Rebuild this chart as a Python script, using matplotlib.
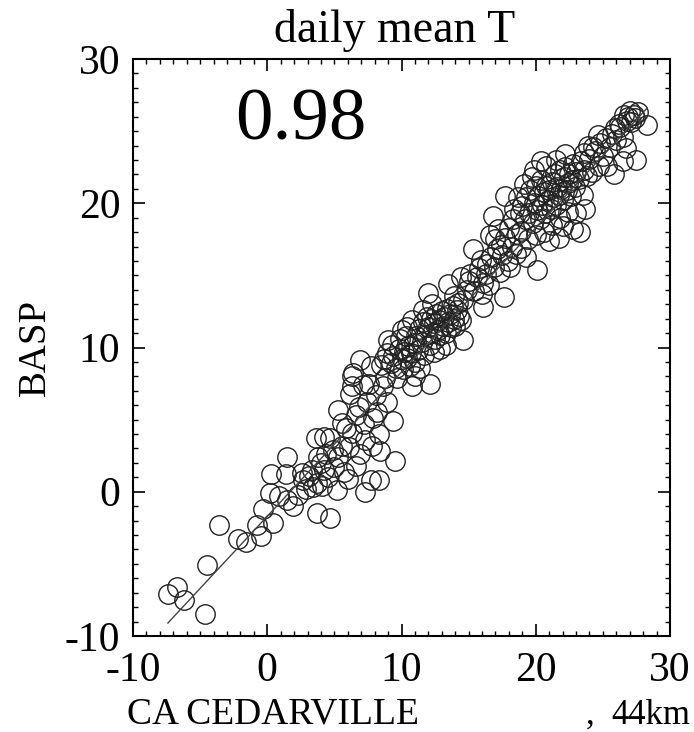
import numpy as np
import matplotlib
matplotlib.use('Agg')
import matplotlib.pyplot as plt
from matplotlib.ticker import MultipleLocator

# daily mean temperature, CA CEDARVILLE (x) vs BASP (y)
x_cedarville = [
    -7.4, -6.7, -6.2, -4.6, -4.5, -3.6, -2.2, -1.6, -0.8, -0.5, 0.4, -0.3, 0.2, 0.3, 0.9,
    1.5, 1.4, 1.5, 1.9, 2.3, 2.7, 2.9, 3.3, 3.1,
    3.6, 4.2, 4.7, 3.8, 4.2, 3.7, 3.7, 4.7, 5.2, 5.3, 5.3, 6.0, 6.2, 6.3, 7.1, 7.2,
    7.3, 6.9, 7.3, 7.7, 8.3, 8.4, 8.3, 8.2, 9.4, 9.5, 8.9, 7.7, 6.4, 6.9, 6.3, 7.6,
    4.0, 4.4, 4.9, 4.5, 5.0, 5.6, 5.9, 6.3, 6.6, 6.8, 7.4, 7.9, 8.1, 8.6, 8.8, 5.6,
    6.1, 2.6, 4.1, 3.4, 6.6, 7.8, 5.7,
    9.0, 8.9, 10.3, 10.8, 12.1, 10.6, 11.9, 12.0, 13.5, 14.4, 14.6,
    8.5, 8.7, 9.2, 9.4, 9.6, 9.8, 10.0, 10.1, 10.2, 10.4, 10.5, 10.7, 10.9, 11.0,
    11.1, 11.2, 11.3, 11.5, 11.6, 11.7, 11.8, 12.0, 12.1, 12.2, 12.3, 12.4, 12.5,
    12.6, 12.7, 12.8, 12.9, 13.0, 13.1, 13.2, 13.3, 13.4, 13.5, 13.6, 13.7, 13.8,
    13.9, 14.0, 14.1, 14.2, 14.3, 9.3, 9.9, 10.4, 10.8, 11.4, 12.4, 12.9, 13.3,
    11.0, 9.7, 11.6, 12.3, 13.9, 10.0,
    15.1, 16.1, 16.4, 17.6, 16.1, 14.9, 15.9, 16.8, 17.0, 17.7, 14.6, 15.0, 15.4,
    15.6, 15.8, 16.0, 16.3, 16.5, 16.7, 16.9, 17.1, 17.3, 17.5, 17.7, 17.9, 18.0,
    18.2, 18.3, 18.5, 18.6, 18.8, 18.9, 17.2, 16.6, 18.1, 15.3, 14.4,
    19.9, 22.8, 21.7, 23.5, 19.3, 20.1,
    19.0, 19.2, 19.3, 19.5, 19.6, 19.8, 19.9, 20.0, 20.1, 20.2, 20.3, 20.4, 20.5,
    20.6, 20.7, 20.8, 20.9, 21.0, 21.1, 21.2, 21.3, 21.4, 21.5, 21.6, 21.7, 21.8,
    21.9, 22.0, 22.1, 22.2, 22.3, 22.4, 22.5, 22.6, 22.7, 22.8, 22.9, 23.0, 23.2,
    23.4, 23.6, 23.8, 24.0, 20.0, 20.6, 21.2, 21.8, 22.4, 19.4, 18.7, 20.8, 21.5,
    22.2, 23.0, 23.7, 22.0, 19.7, 18.4, 19.1, 20.4, 21.0, 23.3, 24.3, 17.4, 18.9,
    26.8, 28.3, 27.3, 25.8, 26.5, 26.7, 26.0, 24.8, 24.4, 24.7, 25.0, 25.2, 25.5,
    25.7, 25.9, 26.2, 26.5, 26.6, 27.0, 27.1, 27.4, 27.6, 26.9, 24.2, 25.3, 23.9,
    24.6, 23.6, 27.5, 26.3,
]
y_basp = [
    -7.1, -6.6, -7.5, -8.5, -5.1, -2.3, -3.3, -3.5, -2.3, -3.1, -2.2, -1.2, -0.1, 1.2, -0.3,
    2.4, 1.2, -0.6, -1.0, -0.2, 0.8, 0.2, 1.5, 1.1,
    3.7, 3.8, 3.7, 2.4, 1.5, 0.6, -1.5, -1.8, 0.1, 5.7, 2.4, 0.9, 6.8, 8.0, 7.4, 4.7,
    3.6, 2.6, 0.0, 0.8, 0.8, 2.8, 4.0, 5.5, 4.9, 2.1, 6.2, 8.7, 8.2, 9.1, 7.3, 7.5,
    2.0, 2.6, 2.9, 1.0, 1.7, 3.2, 4.4, 4.1, 5.3, 5.9, 6.2, 5.1, 6.7, 7.3, 7.9, 4.8,
    3.1, 1.3, 0.4, 0.3, 1.8, 3.2, 1.4,
    10.5, 9.6, 10.8, 7.3, 7.5, 8.7, 12.1, 13.8, 14.4, 11.9, 10.5,
    8.8, 9.2, 8.9, 9.4, 8.6, 9.9, 9.2, 8.5, 9.7, 9.3, 10.1, 9.6, 10.3, 9.0,
    10.8, 9.8, 11.3, 10.4, 11.8, 9.5, 10.9, 11.4, 10.2, 12.0, 11.0, 11.7, 10.6,
    12.3, 11.2, 11.9, 10.9, 12.5, 11.5, 12.1, 11.0, 12.7, 11.8, 12.3, 11.4, 12.9,
    12.0, 11.5, 12.6, 13.1, 12.2, 10.2, 10.6, 11.4, 11.9, 8.6, 9.7, 9.9, 10.2,
    8.0, 7.9, 12.6, 13.0, 13.6, 11.2,
    15.1, 12.8, 15.8, 13.5, 14.5, 14.0, 16.1, 19.1, 17.5, 20.5, 13.3, 14.6, 13.9,
    14.9, 15.5, 13.7, 15.1, 14.3, 16.3, 15.6, 16.8, 15.2, 16.4, 17.6, 16.0, 18.3,
    17.0, 18.9, 16.5, 17.9, 19.3, 18.1, 18.2, 17.8, 15.6, 16.8, 14.9,
    22.3, 18.2, 17.6, 20.6, 16.3, 15.4,
    19.8, 18.9, 20.4, 19.3, 20.9, 18.6, 20.0, 21.2, 19.5, 20.5, 18.9, 21.6, 19.9,
    20.8, 19.3, 21.2, 20.2, 20.9, 19.6, 21.5, 20.4, 22.0, 19.9, 21.1, 20.6, 22.3,
    21.0, 20.2, 21.8, 22.5, 20.9, 21.4, 22.0, 20.5, 21.6, 22.7, 21.1, 22.2, 21.7,
    22.9, 22.3, 21.9, 23.1, 17.8, 18.0, 18.5, 19.0, 19.4, 17.5, 20.4, 22.6, 23.0,
    23.4, 19.3, 19.6, 18.4, 21.8, 19.6, 21.3, 22.9, 17.4, 18.0, 23.9, 17.1, 16.9,
    25.7, 25.4, 26.1, 22.0, 22.9, 23.8, 24.4, 24.2, 23.6, 22.6, 23.3, 24.5, 23.9,
    24.8, 25.2, 25.5, 24.6, 26.1, 26.4, 25.6, 25.9, 26.3, 26.0, 22.2, 22.6, 24.0,
    24.7, 23.5, 23.0, 25.3,
]
fit_slope = 1.0
fit_intercept = -1.7
corr_text = '0.98'

plt.rcParams['font.family'] = ['Liberation Serif', 'DejaVu Serif']
plt.rcParams['axes.unicode_minus'] = False

fig = plt.figure(figsize=(6.94, 7.32), dpi=100)
ax = fig.add_axes([133 / 694, 96 / 732, 537 / 694, 577 / 732])

ax.plot(x_cedarville, y_basp, 'o', ms=14, mfc='none', mec='#222222', mew=1.0)

xs = np.array([min(x_cedarville), max(x_cedarville)])
ax.plot(xs, fit_slope * xs + fit_intercept, color='#444444', lw=1.0)

ax.set_xlim(-10, 30)
ax.set_ylim(-10, 30)
ax.xaxis.set_major_locator(MultipleLocator(10))
ax.yaxis.set_major_locator(MultipleLocator(10))
ax.xaxis.set_minor_locator(MultipleLocator(1))
ax.yaxis.set_minor_locator(MultipleLocator(1))
ax.tick_params(which='both', direction='in', top=True, right=True, labelsize=30)
ax.tick_params(which='major', length=8.5, width=1.2)
ax.tick_params(which='minor', length=3.6, width=1.0)
ax.tick_params(axis='x', pad=11)
ax.tick_params(axis='y', pad=9)
for s in ax.spines.values():
    s.set_linewidth(1.5)

ax.text(0.19, 0.86, corr_text, transform=ax.transAxes, fontsize=54, va='baseline', ha='left')

fig.text(395 / 694, 1 - 42 / 732, 'daily mean T', fontsize=33, ha='center', va='baseline')
fig.text(35 / 694, 1 - 348 / 732, 'BASP', fontsize=28, rotation=90, ha='center', va='center')
fig.text(127 / 694, 1 - 724 / 732, 'CA CEDARVILLE', fontsize=27, ha='left', va='baseline')
fig.text(590 / 694, 1 - 724 / 732, ',', fontsize=25, ha='center', va='baseline')
fig.text(690 / 694, 1 - 724 / 732, '44km', fontsize=25, ha='right', va='baseline')

plt.savefig('out.png', dpi=100)
